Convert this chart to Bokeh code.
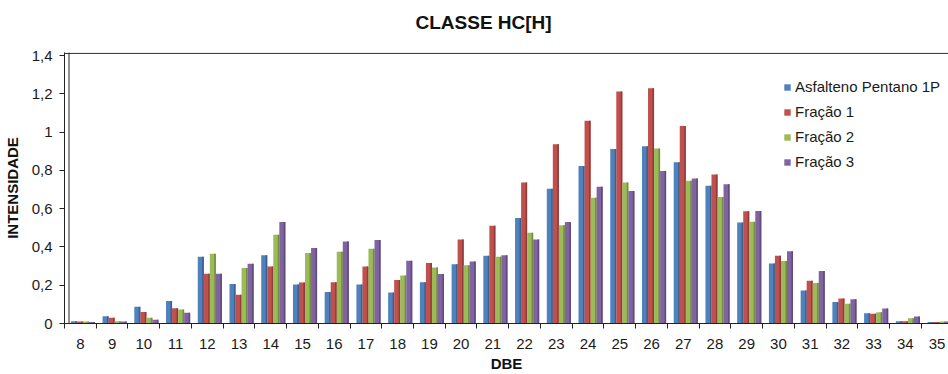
from bokeh.plotting import figure
from bokeh.models import (Range1d, FixedTicker, Span, Legend, LegendItem, ColumnDataSource,
                          LinearAxis)
from bokeh.embed import file_html
from bokeh.resources import INLINE

# DBE classes on the x axis
dbe = list(range(8, 36))

# Intensity per DBE class for each sample
asfalteno = [0.012, 0.038, 0.087, 0.117, 0.349, 0.207, 0.357, 0.204, 0.164, 0.204,
             0.162, 0.216, 0.310, 0.354, 0.551, 0.704, 0.823, 0.912, 0.926, 0.842,
             0.720, 0.528, 0.314, 0.173, 0.112, 0.054, 0.012, 0.008]
fracao1 = [0.010, 0.030, 0.060, 0.080, 0.260, 0.150, 0.298, 0.214, 0.216, 0.298,
           0.227, 0.316, 0.439, 0.511, 0.737, 0.936, 1.060, 1.212, 1.229, 1.032,
           0.779, 0.586, 0.354, 0.223, 0.131, 0.051, 0.012, 0.008]
fracao2 = [0.010, 0.012, 0.030, 0.073, 0.364, 0.290, 0.464, 0.368, 0.375, 0.390,
           0.251, 0.293, 0.305, 0.349, 0.474, 0.513, 0.657, 0.737, 0.914, 0.746,
           0.661, 0.532, 0.326, 0.211, 0.103, 0.059, 0.028, 0.010]
fracao3 = [0.008, 0.010, 0.020, 0.056, 0.260, 0.312, 0.530, 0.394, 0.429, 0.436,
           0.328, 0.258, 0.324, 0.357, 0.439, 0.530, 0.715, 0.692, 0.797, 0.758,
           0.727, 0.588, 0.377, 0.274, 0.127, 0.078, 0.037, 0.010]

series_names = ["Asfalteno Pentano 1P", "Fração 1", "Fração 2", "Fração 3"]
series_values = [asfalteno, fracao1, fracao2, fracao3]

y_ticks = [0, 0.2, 0.4, 0.6, 0.8, 1.0, 1.2, 1.4]
y_tick_labels = ["0", "0,2", "0,4", "0,6", "0,8", "1", "1,2", "1,4"]

title_text = "CLASSE HC[H]"

colors = ["#4F81BD", "#C0504D", "#9BBB59", "#8064A2"]
side_colors = ["#3B618E", "#903C3A", "#748C43", "#604B7A"]

FONT = "Liberation Sans"
BAR_W = 0.19
SHIFT = 0.08          # slight depth offset of the bar groups
SIDE_W = 0.05         # shaded right face of each bar

p = figure(width=948, height=374, output_backend="svg", toolbar_location=None,
           x_range=Range1d(7.5, 35.36), y_range=Range1d(0, 1.416),
           min_border_left=64, min_border_right=0, min_border_top=52,
           min_border_bottom=51)
p.background_fill_color = "white"
p.border_fill_color = "white"
p.outline_line_color = None
p.xgrid.visible = False
p.ygrid.visible = False

xa = p.below[0]
ya = p.left[0]

renderers = []
for i, (vals, c, sc) in enumerate(zip(series_values, colors, side_colors)):
    off = (i - 1.5) * BAR_W + SHIFT
    src = ColumnDataSource(dict(x=[d + off for d in dbe], top=vals,
                                xs=[d + off + BAR_W / 2 - SIDE_W / 2 for d in dbe]))
    r = p.vbar(x="x", top="top", bottom=0, width=BAR_W, source=src,
               fill_color=c, line_color=None)
    p.vbar(x="xs", top="top", bottom=0, width=SIDE_W, source=src,
           fill_color=sc, line_color=None)
    renderers.append(r)

# frame: top edge and the inner line of the left wall
p.add_layout(Span(location=1.4115, dimension="width", line_color="#222", line_width=1))
p.add_layout(Span(location=7.5 + 4.5 / 31.73, dimension="height", line_color="#222", line_width=1))

# invisible spacer axis between the frame and the title
spacer = LinearAxis(ticker=FixedTicker(ticks=[20]), axis_line_color=None,
                    major_tick_line_color=None, minor_tick_line_color=None,
                    major_tick_out=12, major_tick_in=0, minor_tick_out=0,
                    major_label_standoff=0, major_label_text_font_size="1px",
                    major_label_text_alpha=0, major_label_overrides={20: ""})
p.add_layout(spacer, "above")

# title
p.title.text = title_text
p.title.align = "left"
p.title.offset = 351
p.title.standoff = 16
p.title.text_font = FONT
p.title.text_font_size = "19px"
p.title.text_font_style = "bold"
p.title.text_color = "#111"

# x axis
xa.ticker = FixedTicker(ticks=dbe, minor_ticks=[d - 0.5 for d in dbe] + [35.5])
xa.major_tick_out = 0
xa.major_tick_in = 0
xa.minor_tick_out = 5
xa.minor_tick_in = 0
xa.minor_tick_line_color = "#222"
xa.axis_line_color = "#222"
xa.major_label_standoff = 10
xa.major_label_text_font = FONT
xa.major_label_text_font_size = "15px"
xa.major_label_text_color = "#1a1a1a"
xa.axis_label = "DBE"
xa.axis_label_standoff = 3
xa.axis_label_text_font = FONT
xa.axis_label_text_font_size = "15px"
xa.axis_label_text_font_style = "bold"
xa.axis_label_text_color = "#111"

# y axis
ya.ticker = FixedTicker(ticks=y_ticks)
ya.major_label_overrides = dict(zip(y_ticks, y_tick_labels))
ya.major_tick_out = 5
ya.major_tick_in = 0
ya.minor_tick_line_color = None
ya.major_tick_line_color = "#222"
ya.axis_line_color = "#222"
ya.major_label_standoff = 7
ya.major_label_text_font = FONT
ya.major_label_text_font_size = "15px"
ya.major_label_text_color = "#1a1a1a"
ya.axis_label = "INTENSIDADE"
ya.axis_label_standoff = 8
ya.axis_label_text_font = FONT
ya.axis_label_text_font_size = "15px"
ya.axis_label_text_font_style = "bold"
ya.axis_label_text_color = "#111"

legend = Legend(items=[LegendItem(label=n, renderers=[r]) for n, r in zip(series_names, renderers)],
                location=(719, 149))
legend.border_line_color = None
legend.background_fill_alpha = 0
legend.label_text_font = FONT
legend.label_text_font_size = "15px"
legend.label_text_color = "#1a1a1a"
legend.glyph_width = 8
legend.glyph_height = 8
legend.label_height = 25
legend.label_standoff = 4
legend.spacing = 0
legend.padding = 0
legend.margin = 0
p.add_layout(legend)

open("out.html", "w").write(file_html(p, INLINE))
